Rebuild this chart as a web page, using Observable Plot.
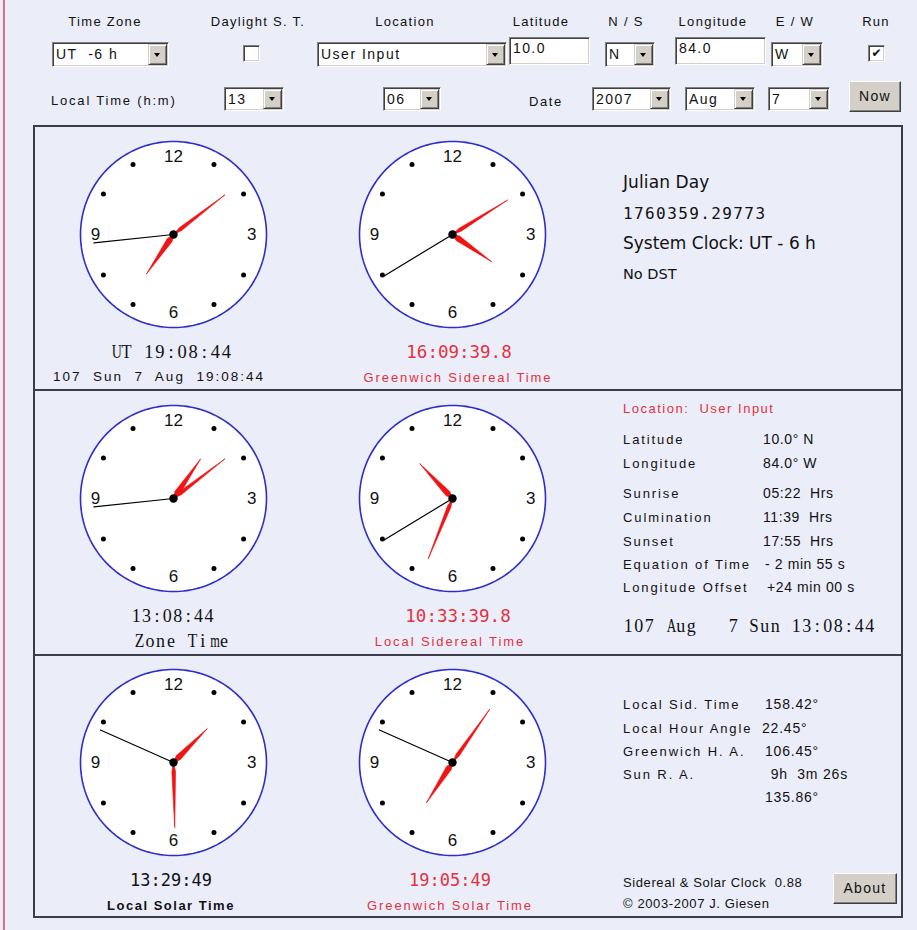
<!DOCTYPE html>
<html><head><meta charset="utf-8">
<script src="https://cdn.jsdelivr.net/npm/d3@7"></script>
<script src="https://cdn.jsdelivr.net/npm/@observablehq/plot@0.6"></script>
<style>
html,body{margin:0;padding:0;}
body{background:#ebedf9;width:917px;height:930px;overflow:hidden;position:relative;font-family:"Liberation Sans",Arial,sans-serif;color:#111;}
#root>*{position:absolute;}
.t{white-space:pre;}
.cell{display:inline-block;text-align:center;overflow:visible;}
.glyph{display:inline-block;transform-origin:50% 50%;}
</style></head><body>
<div id="root"></div>
<script>
// ---------- data ----------
const clockTimes = [[19, 8, 44], [16, 9, 39.8], [13, 8, 44], [10, 33, 39.8], [13, 29, 49], [19, 5, 49]];
const clockTitles = ["UT 19:08:44", "16:09:39.8", "13:08:44", "10:33:39.8", "13:29:49", "19:05:49"];
const clockSubtitles = ["107  Sun  7  Aug  19:08:44", "Greenwich Sidereal Time", "Zone Time", "Local Sidereal Time", "Local Solar Time", "Greenwich Solar Time"];
const dialNumbers = [12, 3, 6, 9];

const topLabels = ["Time Zone", "Daylight S. T.", "Location", "Latitude", "N / S", "Longitude", "E / W", "Run"];
const selectTexts = ["UT  -6 h", "User Input", "N", "W", "13", "06", "2007", "Aug", "7"];
const inputTexts = ["10.0", "84.0"];

const row1Info = ["Julian Day", "1760359.29773", "System Clock: UT - 6 h", "No DST"];
const locationTitle = "Location:  User Input";
const row2Labels = ["Latitude", "Longitude", "Sunrise", "Culmination", "Sunset", "Equation of Time", "Longitude Offset"];
const row2Values = ["10.0° N", "84.0° W", "05:22  Hrs", "11:39  Hrs", "17:55  Hrs", "- 2 min 55 s", "+24 min 00 s"];
const row2Date = "107 Aug   7 Sun 13:08:44";
const row3Labels = ["Local Sid. Time", "Local Hour Angle", "Greenwich H. A.", "Sun R. A.", ""];
const row3Values = ["158.42°", "22.45°", "106.45°", " 9h  3m 26s", "135.86°"];
const footer = ["Sidereal & Solar Clock  0.88", "© 2003-2007 J. Giesen"];

// ---------- helpers ----------
const root = document.getElementById("root");
function el(tag, css, txt) {
  const e = document.createElement(tag);
  Object.assign(e.style, css);
  if (txt != null) e.textContent = txt;
  root.appendChild(e);
  return e;
}
function text(x, yc, str, o = {}) {
  const size = o.size || 13, lh = Math.round(size * 1.3);
  const e = el("div", {
    left: x + "px", top: (yc - lh / 2) + "px", lineHeight: lh + "px",
    fontSize: size + "px", fontFamily: o.family || '"Liberation Sans", Arial, sans-serif',
    color: o.color || "#111", letterSpacing: (o.ls || 0) + "px",
    fontWeight: o.weight || "normal",
    transform: o.anchor === "middle" ? "translateX(-50%)" : "none"
  }, str);
  e.className = "t";
  return e;
}
// Courier-like text: serif glyphs placed in fixed-width cells (wide glyphs narrowed to fit)
function courier(x, yc, str, cw, o = {}) {
  const size = o.size || 18, lh = Math.round(size * 1.3);
  const e = el("div", {
    left: x + "px", top: (yc - lh / 2) + "px", lineHeight: lh + "px", height: lh + "px",
    fontSize: size + "px", fontFamily: '"Liberation Serif", "Times New Roman", serif',
    color: o.color || "#111", whiteSpace: "nowrap"
  });
  const glyphs = [];
  for (const ch of str) {
    const c = document.createElement("span");
    c.className = "cell";
    c.style.width = cw + "px";
    const g = document.createElement("span");
    g.className = "glyph";
    g.textContent = ch === " " ? "\u00a0" : ch;
    c.appendChild(g);
    e.appendChild(c);
    glyphs.push(g);
  }
  for (const g of glyphs) {
    const gw = g.getBoundingClientRect().width;
    const k = Math.min(1, (cw - 1) / gw);
    if (k < 1) g.style.transform = `scaleX(${k})`;
  }
  return e;
}
const sunken = {
  boxSizing: "border-box", background: "#fff",
  border: "1px solid", borderColor: "#808080 #ffffff #ffffff #808080",
  boxShadow: "inset 1px 1px #404040, inset -1px -1px #d4d0c8"
};
function select(x1, y1, x2, y2, str) {
  const d = el("div", Object.assign({left: x1 + "px", top: y1 + "px", width: (x2 - x1) + "px", height: (y2 - y1) + "px"}, sunken));
  const t = document.createElement("div");
  Object.assign(t.style, {position: "absolute", left: "3px", top: "0", lineHeight: (y2 - y1 - 2) + "px", fontSize: "14px", letterSpacing: "1.5px", whiteSpace: "pre"});
  t.textContent = str; d.appendChild(t);
  const b = document.createElement("div");
  Object.assign(b.style, {position: "absolute", right: "1px", top: "1px", bottom: "1px", width: "19px", boxSizing: "border-box", background: "#d4d0c8",
    border: "1px solid", borderColor: "#d4d0c8 #404040 #404040 #d4d0c8", boxShadow: "inset 1px 1px #fff, inset -1px -1px #808080"});
  const tri = document.createElement("div");
  Object.assign(tri.style, {position: "absolute", left: "50%", top: "50%", marginLeft: "-3.5px", marginTop: "-2px", width: "0", height: "0",
    borderLeft: "3.5px solid transparent", borderRight: "3.5px solid transparent", borderTop: "4px solid #000"});
  b.appendChild(tri); d.appendChild(b);
}
function input(x1, y1, x2, y2, str) {
  el("div", Object.assign({left: x1 + "px", top: y1 + "px", width: (x2 - x1) + "px", height: (y2 - y1) + "px", fontSize: "14px", letterSpacing: "1.4px", paddingLeft: "3px", paddingTop: "2px"}, sunken), str);
}
function checkbox(x, y, checked) {
  el("div", Object.assign({left: x + "px", top: y + "px", width: "17px", height: "17px", fontSize: "12px", lineHeight: "15px", textAlign: "center", fontWeight: "bold", fontFamily: '"DejaVu Sans"'}, sunken), checked ? "✔" : "");
}
function button(x1, y1, x2, y2, str) {
  el("div", {left: x1 + "px", top: y1 + "px", width: (x2 - x1) + "px", height: (y2 - y1) + "px", boxSizing: "border-box", background: "#d4d0c8",
    border: "1px solid", borderColor: "#ffffff #404040 #404040 #ffffff", boxShadow: "inset -1px -1px #808080",
    textAlign: "center", lineHeight: (y2 - y1 - 2) + "px", fontSize: "14px", letterSpacing: "1.3px"}, str);
}

// ---------- clock drawing ----------
function clock(t) {
  const [h, m, s] = t;
  const R = 93, S = 200, H = S / 2 / R;
  const rad = a => a * Math.PI / 180;
  const pt = (a, r) => ({x: r * Math.sin(rad(a)), y: r * Math.cos(rad(a))});
  const circle = d3.range(0, 361, 2).map(a => pt(a, 1));
  const nums = dialNumbers.map(n => ({...pt((n % 12) * 30, 0.84), t: String(n)}));
  const dots = d3.range(12).filter(i => i % 3).map(i => pt(i * 30, 0.87));
  const hourA = ((h % 12) + m / 60 + s / 3600) * 30;
  const minA = (m + s / 60) * 6;
  const secA = s * 6;
  function hand(a, L, w, id) {
    const d = [Math.sin(rad(a)), Math.cos(rad(a))], p = [Math.cos(rad(a)), -Math.sin(rad(a))];
    const l = L / R, ww = w / R, k = 0.14 * l;
    return [
      {x: 0, y: 0, id},
      {x: d[0] * k + p[0] * ww, y: d[1] * k + p[1] * ww, id},
      {x: d[0] * l, y: d[1] * l, id},
      {x: d[0] * k - p[0] * ww, y: d[1] * k - p[1] * ww, id},
      {x: 0, y: 0, id}
    ];
  }
  const hands = [...hand(hourA, 48, 2.8, "h"), ...hand(minA, 65, 1.8, "m")];
  const sec = [{x: 0, y: 0}, pt(secA, 80 / R)];
  return Plot.plot({
    width: S, height: S, margin: 0,
    x: {domain: [-H, H], axis: null},
    y: {domain: [-H, H], axis: null},
    style: {background: "transparent", overflow: "visible"},
    marks: [
      Plot.line(circle, {x: "x", y: "y", fill: "white", stroke: "#2d2dc8", strokeWidth: 1.6}),
      Plot.dot(dots, {x: "x", y: "y", r: 2.5, fill: "#000", stroke: null}),
      Plot.text(nums, {x: "x", y: "y", text: "t", fontSize: 17, fontFamily: '"Liberation Sans", Arial, sans-serif', fill: "#111"}),
      Plot.line(sec, {x: "x", y: "y", stroke: "#000", strokeWidth: 1.2}),
      Plot.line(hands, {x: "x", y: "y", z: "id", fill: "#f01414", stroke: "#f01414", strokeWidth: 0.7, strokeLinejoin: "round"}),
      Plot.dot([{x: 0, y: 0}], {x: "x", y: "y", r: 4.2, fill: "#000", stroke: null})
    ]
  });
}

// ---------- layout ----------
el("div", {left: "3px", top: "0", width: "2px", height: "930px", background: "#e0707c"});

// top labels
const labelX = [105, 258, 405, 541, 626, 713, 795, 876];
topLabels.forEach((s, i) => text(labelX[i], 21, s, {anchor: "middle", ls: 1.3}));

// controls row 1
select(52, 42, 169, 67, selectTexts[0]);
checkbox(243, 45, false);
select(317, 42, 507, 67, selectTexts[1]);
input(509, 37, 590, 65, inputTexts[0]);
select(605, 42, 655, 67, selectTexts[2]);
input(675, 37, 766, 65, inputTexts[1]);
select(771, 42, 823, 67, selectTexts[3]);
checkbox(868, 45, true);
// controls row 2
text(51, 100, "Local Time (h:m)", {ls: 1.8});
select(224, 87, 284, 111, selectTexts[4]);
select(383, 87, 441, 111, selectTexts[5]);
text(529, 101, "Date", {ls: 1.6});
select(592, 87, 671, 111, selectTexts[6]);
select(685, 87, 755, 111, selectTexts[7]);
select(768, 87, 830, 111, selectTexts[8]);
button(849, 81, 901, 112, "Now");

// panel
el("div", {left: "33px", top: "125px", width: "870px", height: "793px", boxSizing: "border-box", border: "2px solid #3c3c4a"});
el("div", {left: "33px", top: "389px", width: "870px", height: "2px", background: "#3c3c4a"});
el("div", {left: "33px", top: "654px", width: "870px", height: "2px", background: "#3c3c4a"});

// clocks
const colX = [173, 452], rowY = [234, 498, 762];
const red = "#e2323e";
clockTimes.forEach((t, i) => {
  const cx = colX[i % 2], cy = rowY[Math.floor(i / 2)];
  const svg = clock(t);
  svg.style.position = "absolute";
  svg.style.left = (cx - 100) + "px";
  svg.style.top = (cy - 100) + "px";
  root.appendChild(svg);
});
// clock captions
courier(110, 352, clockTitles[0], 11.1, {size: 18.5});
text(159, 377, clockSubtitles[0], {anchor: "middle", size: 13.5, ls: 2.0});
text(459, 352, clockTitles[1], {anchor: "middle", size: 17.5, family: '"DejaVu Sans Mono", monospace', color: red});
text(458, 377, clockSubtitles[1], {anchor: "middle", size: 13, ls: 1.9, color: red});
courier(131, 616, clockTitles[2], 10.4, {size: 18});
courier(134, 641, clockSubtitles[2], 10.6, {size: 18});
text(458, 616, clockTitles[3], {anchor: "middle", size: 17.5, family: '"DejaVu Sans Mono", monospace', color: red});
text(450, 641, clockSubtitles[3], {anchor: "middle", size: 13, ls: 1.9, color: red});
text(171, 880, clockTitles[4], {anchor: "middle", size: 17, family: '"DejaVu Sans Mono", monospace'});
text(171, 905, clockSubtitles[4], {anchor: "middle", size: 13, ls: 1.5, weight: "bold"});
text(450, 880, clockTitles[5], {anchor: "middle", size: 17, family: '"DejaVu Sans Mono", monospace', color: red});
text(450, 905, clockSubtitles[5], {anchor: "middle", size: 13, ls: 1.9, color: red});

// right panel row 1
text(623, 182, row1Info[0], {size: 17, family: '"DejaVu Sans", sans-serif', ls: 0.1});
text(623, 213, row1Info[1], {size: 16, family: '"DejaVu Sans Mono", monospace', ls: 1.4});
text(623, 243, row1Info[2], {size: 17, family: '"DejaVu Sans", sans-serif', ls: 0});
text(623, 274, row1Info[3], {size: 14.5, family: '"DejaVu Sans", sans-serif'});

// row 2
text(623, 408, locationTitle, {color: red, ls: 1.5});
const r2y = [439, 463, 493, 517, 541, 564, 587];
const r2vx = [763, 763, 763, 763, 763, 765, 767];
row2Labels.forEach((s, i) => {
  text(623, r2y[i], s, {ls: 1.9});
  text(r2vx[i], r2y[i], row2Values[i], {size: 14, ls: 0.6});
});
courier(623, 626, row2Date, 10.5, {size: 18});

// row 3
const r3y = [704, 728, 751, 774, 797];
const r3vx = [765, 762, 765, 766, 765];
row3Labels.forEach((s, i) => {
  if (s) text(623, r3y[i], s, {ls: 1.9});
  text(r3vx[i], r3y[i], row3Values[i], {size: 14, ls: 0.8});
});
text(623, 882, footer[0], {size: 13, ls: 0.6});
text(623, 903, footer[1], {size: 13, ls: 0.6});
button(833, 873, 897, 904, "About");
</script>
</body></html>
